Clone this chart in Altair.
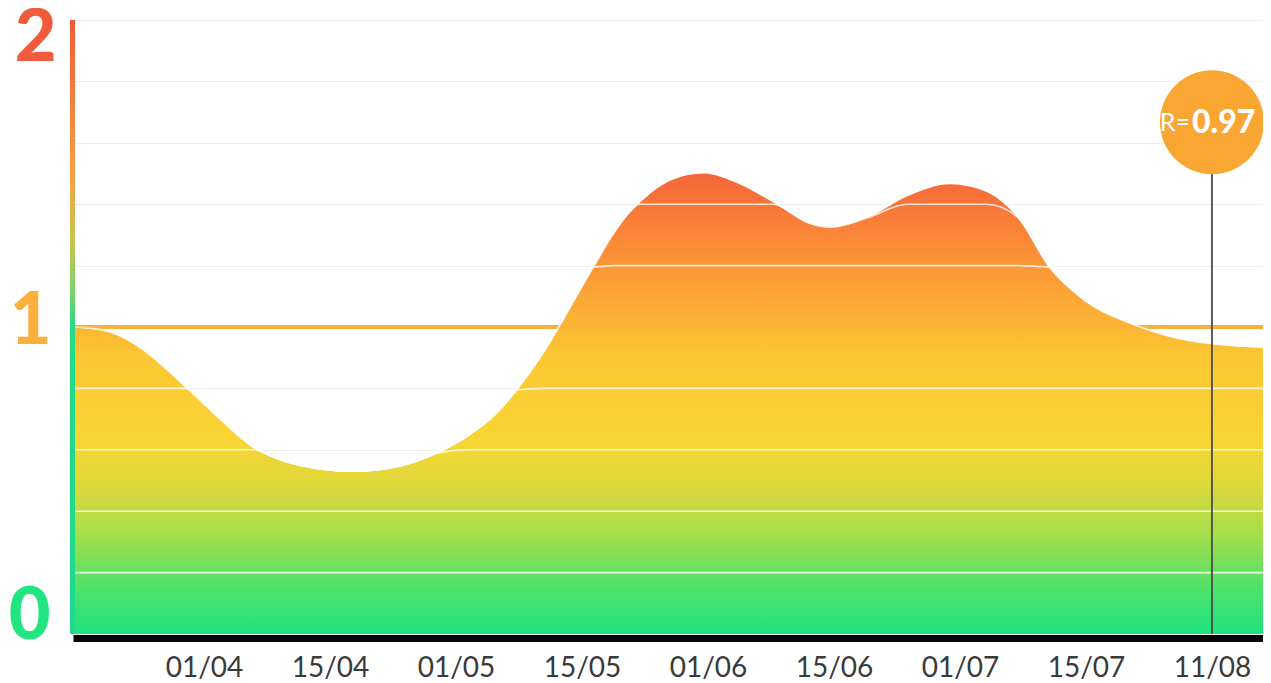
import json
import altair as alt
import pandas as pd

# ---------------- data ----------------
x_labels = ["01/04", "15/04", "01/05", "15/05", "01/06", "15/06", "01/07", "15/07", "11/08"]
x_label_pos = [1, 2, 3, 4, 5, 6, 7, 8, 9]

curve_x = [-0.04, 0.20, 0.47, 0.73, 0.87, 1.13, 1.39, 1.66, 1.92, 2.18, 2.58, 2.85,
           3.11, 3.31, 3.48, 3.69, 3.83, 4.09, 4.26, 4.46, 4.72, 4.96, 5.25, 5.52,
           5.79, 5.97, 6.26, 6.58, 6.92, 7.21, 7.45, 7.71, 7.98, 8.37, 8.77, 9.17, 9.405]
curve_y = [1.00, 0.99, 0.94, 0.853, 0.80, 0.70, 0.61, 0.56, 0.538, 0.53, 0.55, 0.59,
           0.65, 0.715, 0.795, 0.915, 1.01, 1.195, 1.31, 1.405, 1.48, 1.50, 1.465, 1.405,
           1.34, 1.325, 1.355, 1.425, 1.465, 1.44, 1.36, 1.195, 1.09, 1.01, 0.96, 0.94, 0.935]

grid_vals = [0, 0.2, 0.4, 0.6, 0.8, 1.0, 1.2, 1.4, 1.6, 1.8, 2.0]
y_label_vals = [0, 1, 2]
white_levels = [0.2, 0.4, 0.6, 0.8, 1.2, 1.4]
ref_level = [1.0]
axis_span = [0, 2]

marker_x = [9]
marker_y = [1.667]
marker_prefix = ["R="]
marker_value = ["0.97"]

x_domain = [-0.04, 9.405]
y_domain = [0, 2]

# ---------------- tables ----------------
curve = pd.DataFrame({"x": curve_x, "y": curve_y})
white_rows = []
for lv in white_levels:
    for xv, yv in zip(curve_x, curve_y):
        white_rows.append({"x": xv, "y": min(yv, lv), "level": lv})
white_df = pd.DataFrame(white_rows)
ref_df = pd.DataFrame({"y": ref_level})
axis_df = pd.DataFrame({"y": [axis_span[0]], "y2": [axis_span[1]]})
marker_df = pd.DataFrame({"x": marker_x, "y": marker_y,
                          "prefix": marker_prefix, "val": marker_value})

# ---------------- axes / scales ----------------
RED, ORANGE, GREEN = "#f15a3b", "#fbb03b", "#20e581"

yaxis = alt.Axis(
    values=grid_vals, title=None, grid=True, gridColor="#eeeeee", gridWidth=1,
    ticks=False, domain=False,
    labelExpr=f"indexof({json.dumps(y_label_vals)}, datum.value) >= 0 ? format(datum.value, 'd') : ''",
    labelFont="Lato", labelFontSize=72, labelFontWeight=900,
    labelAlign="center", labelBaseline="middle",
    labelColor={"condition": [{"test": "datum.value == 2", "value": RED},
                              {"test": "datum.value == 1", "value": ORANGE}],
                "value": GREEN},
    labelOffset={"condition": [{"test": "datum.value == 2", "value": 18},
                               {"test": "datum.value == 1", "value": -6}],
                 "value": -18},
    labelPadding={"condition": [{"test": "datum.value == 2", "value": 38},
                                {"test": "datum.value == 1", "value": 43}],
                  "value": 44},
    labelFlush=False, labelOverlap=False, minExtent=65, maxExtent=65,
)
xaxis = alt.Axis(
    values=x_label_pos, title=None, grid=False, ticks=False, tickSize=0,
    domain=True, domainColor="#050505", domainWidth=7, offset=4,
    labelExpr=f"{json.dumps(x_labels)}[round(datum.value) - 1]",
    labelFont="Lato", labelFontSize=28, labelColor="#3a3a3a", labelPadding=16,
    labelFlush=False, labelOverlap=False,
)
xs = alt.Scale(domain=x_domain, nice=False, zero=False)
ys = alt.Scale(domain=y_domain, nice=False, zero=False)


def X(field="x"):
    return alt.X(f"{field}:Q", scale=xs, axis=xaxis)


def Y(field="y"):
    return alt.Y(f"{field}:Q", scale=ys, axis=yaxis)


area_grad = alt.Gradient(
    gradient="linear", x1=0.5, x2=0.5, y1=1, y2=0,
    stops=[
        alt.GradientStop(offset=0.0, color="#1fe37f"),
        alt.GradientStop(offset=0.10, color="#4fe16a"),
        alt.GradientStop(offset=0.22, color="#a6de4a"),
        alt.GradientStop(offset=0.33, color="#e0d83a"),
        alt.GradientStop(offset=0.42, color="#f8d534"),
        alt.GradientStop(offset=0.60, color="#fbc733"),
        alt.GradientStop(offset=0.72, color="#fca935"),
        alt.GradientStop(offset=0.86, color="#fa8838"),
        alt.GradientStop(offset=1.0, color="#f5653a"),
    ],
)
axis_grad = alt.Gradient(
    gradient="linear", x1=0.5, x2=0.5, y1=1, y2=0,
    stops=[
        alt.GradientStop(offset=0.0, color="#1ed98e"),
        alt.GradientStop(offset=0.5, color="#26da86"),
        alt.GradientStop(offset=0.56, color="#7fd26a"),
        alt.GradientStop(offset=0.645, color="#cbc452"),
        alt.GradientStop(offset=0.75, color="#f4a046"),
        alt.GradientStop(offset=1.0, color="#f05a3a"),
    ],
)

# ---------------- layers ----------------
ref_rule = alt.Chart(ref_df).mark_rule(color="#f9b23d", strokeWidth=4).encode(y=Y())

area = alt.Chart(curve).mark_area(interpolate="monotone", color=area_grad).encode(
    x=X(), y=Y()
)

white_lines = alt.Chart(white_df).mark_line(
    interpolate="monotone", color="white", strokeWidth=1.6, opacity=0.8
).encode(x=X(), y=Y(), detail="level:N")

ref_tint = alt.Chart(ref_df).mark_rule(color="#f9a83a", strokeWidth=3, opacity=0.3).encode(y=Y())

vline = alt.Chart(marker_df).mark_rule(color="#4a4a4a", strokeWidth=2, opacity=0.9).encode(
    x=X(), y=alt.Y("zero:Q", scale=ys, axis=yaxis), y2="y:Q"
).transform_calculate(zero="0")

axis_line = alt.Chart(axis_df).mark_rect(color=axis_grad).encode(
    x=alt.value(-3), x2=alt.value(2), y=Y("y"), y2="y2:Q"
)

circle = alt.Chart(marker_df).mark_circle(size=10816, color="#f9a632", opacity=1).encode(
    x=X(), y=Y()
)

txt_prefix = alt.Chart(marker_df).mark_text(
    font="Lato", fontSize=25, fontWeight=400, color="white",
    align="right", baseline="middle", dx=-22, dy=1
).encode(x=X(), y=Y(), text="prefix:N")

txt_value = alt.Chart(marker_df).mark_text(
    font="Lato", fontSize=32, fontWeight=900, color="white",
    align="left", baseline="middle", dx=-20, dy=1
).encode(x=X(), y=Y(), text="val:N")

chart = alt.layer(
    ref_rule, area, white_lines, ref_tint, vline, axis_line, circle, txt_prefix, txt_value
).properties(
    width=1190, height=614,
    autosize=alt.AutoSizeParams(type="none"),
    padding={"left": 65, "top": 12, "right": 0, "bottom": 47},
    background="white",
).configure_view(stroke=None)

chart.save("out.html", embed_options={"renderer": "svg", "actions": False})
